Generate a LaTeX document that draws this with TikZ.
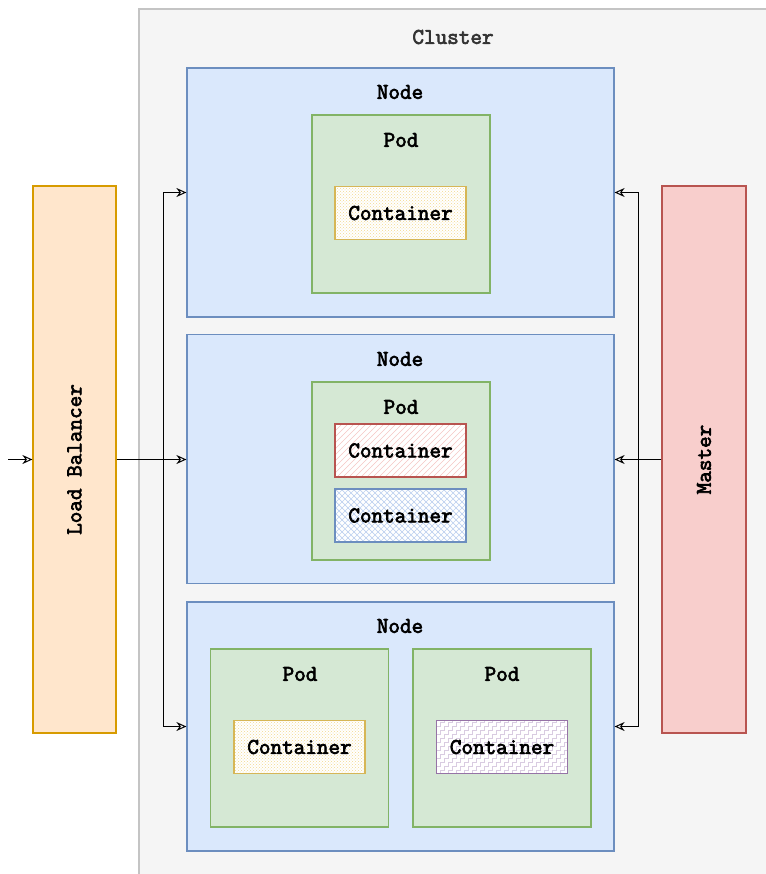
\documentclass[tikz,border=0pt]{standalone}
\usepackage{fontspec}
\newfontfamily\boxfont{Latin Modern Mono}[FakeBold=3]
\usetikzlibrary{arrows.meta,patterns}

% colour palette
\definecolor{clfill}{HTML}{F5F5F5}
\definecolor{clline}{HTML}{C4C4C4}
\definecolor{cltext}{HTML}{333333}
\definecolor{ndfill}{HTML}{DAE8FC}
\definecolor{ndline}{HTML}{6C8EBF}
\definecolor{pdfill}{HTML}{D5E8D4}
\definecolor{pdline}{HTML}{82B366}
\definecolor{lbfill}{HTML}{FFE6CC}
\definecolor{lbline}{HTML}{D79B00}
\definecolor{msfill}{HTML}{F8CECC}
\definecolor{msline}{HTML}{B85450}
\definecolor{yline}{HTML}{D6B656}
\definecolor{ydots}{HTML}{F2D98E}
\definecolor{rhatch}{HTML}{F5C6C4}
\definecolor{bhatch}{HTML}{BED1F0}
\definecolor{pline}{HTML}{9673A6}
\definecolor{pstep}{HTML}{D9CCE1}

% wide diagonal hatch (red container)
\pgfdeclarepatternformonly{widehatch}{\pgfqpoint{-1pt}{-1pt}}{\pgfqpoint{7pt}{7pt}}{\pgfqpoint{6pt}{6pt}}{%
  \pgfsetlinewidth{0.7pt}%
  \pgfpathmoveto{\pgfqpoint{0pt}{0pt}}%
  \pgfpathlineto{\pgfqpoint{6.1pt}{6.1pt}}%
  \pgfusepath{stroke}%
}
% wide diagonal cross-hatch (blue container)
\pgfdeclarepatternformonly{widecross}{\pgfqpoint{-1pt}{-1pt}}{\pgfqpoint{7pt}{7pt}}{\pgfqpoint{6pt}{6pt}}{%
  \pgfsetlinewidth{0.7pt}%
  \pgfpathmoveto{\pgfqpoint{0pt}{0pt}}%
  \pgfpathlineto{\pgfqpoint{6.1pt}{6.1pt}}%
  \pgfpathmoveto{\pgfqpoint{0pt}{6pt}}%
  \pgfpathlineto{\pgfqpoint{6.1pt}{-0.1pt}}%
  \pgfusepath{stroke}%
}
% stair-step fill (purple container)
\pgfdeclarepatternformonly{stairs}{\pgfqpoint{-1pt}{-1pt}}{\pgfqpoint{9pt}{9pt}}{\pgfqpoint{8pt}{8pt}}{%
  \pgfsetlinewidth{0.7pt}%
  \pgfpathmoveto{\pgfqpoint{0pt}{0pt}}%
  \pgfpathlineto{\pgfqpoint{4pt}{0pt}}%
  \pgfpathlineto{\pgfqpoint{4pt}{4pt}}%
  \pgfpathlineto{\pgfqpoint{8pt}{4pt}}%
  \pgfpathlineto{\pgfqpoint{8pt}{8pt}}%
  \pgfusepath{stroke}%
}

\tikzset{
  txt/.style={font=\fontsize{22.5}{26}\selectfont\boxfont, inner sep=0pt},
  cluster/.style={draw=clline, fill=clfill, line width=1.3pt, inner sep=0pt},
  knode/.style={draw=ndline, fill=ndfill, line width=1.2pt, minimum width=427pt, minimum height=249pt, inner sep=0pt},
  pod/.style={draw=pdline, fill=pdfill, line width=1.2pt, minimum width=178pt, minimum height=178pt, inner sep=0pt},
  cbox/.style={line width=1.2pt, minimum width=131pt, minimum height=53pt, inner sep=0pt, txt},
  lbbox/.style={draw=lbline, fill=lbfill, line width=1.2pt, minimum width=83pt, minimum height=547pt, inner sep=0pt},
  msbox/.style={draw=msline, fill=msfill, line width=1.2pt, minimum width=84pt, minimum height=547pt, inner sep=0pt},
  edge/.style={draw=black, line width=1pt, -{Stealth[open, length=10pt, width=9pt]}},
}

\begin{document}
\begin{tikzpicture}[x=1pt, y=-1pt]
\useasboundingbox (0,0) rectangle (765,874);

% cluster frame (runs off the right and lower edges)
\node[cluster, minimum width=629pt, minimum height=866pt] (cl) at (453.5,442) {};
\node[txt, text=cltext] (clt) at (453,37) {Cluster};

% worker nodes
\node[knode] (n1) at (400.5,192.5) {};
\node[knode] (n2) at (400.5,459) {};
\node[knode] (n3) at (400.5,726.5) {};
\node[txt] (n1t) at (400,92) {Node};
\node[txt] (n2t) at (400,359) {Node};
\node[txt] (n3t) at (400,626) {Node};

% pods
\node[pod] (p1) at (401,204) {};
\node[pod] (p2) at (401,471) {};
\node[pod] (p3a) at (299.5,738) {};
\node[pod] (p3b) at (502,738) {};
\node[txt] (p1t) at (401,140) {Pod};
\node[txt] (p2t) at (401,407) {Pod};
\node[txt] (p3at) at (300,674) {Pod};
\node[txt] (p3bt) at (502,674) {Pod};

% containers
\node[cbox, fill=white] (c1bg) at (400.5,213) {};
\node[cbox, draw=yline, pattern=crosshatch dots, pattern color=ydots] (c1) at (400.5,213) {Container};

\node[cbox, fill=white] (c2bg) at (400.5,450.5) {};
\node[cbox, draw=msline, pattern=widehatch, pattern color=rhatch] (c2) at (400.5,450.5) {Container};

\node[cbox, fill=white] (c3bg) at (400.5,515.5) {};
\node[cbox, draw=ndline, pattern=widecross, pattern color=bhatch] (c3) at (400.5,515.5) {Container};

\node[cbox, fill=white] (c4bg) at (299.5,747) {};
\node[cbox, draw=yline, pattern=crosshatch dots, pattern color=ydots] (c4) at (299.5,747) {Container};

\node[cbox, fill=white] (c5bg) at (502,747) {};
\node[cbox, draw=pline, pattern=stairs, pattern color=pstep] (c5) at (502,747) {Container};

% load balancer and master
\node[lbbox] (lb) at (74.5,459.5) {};
\node[txt, rotate=90] (lbt) at (74.5,459.5) {Load Balancer};
\node[msbox] (ms) at (704,459.5) {};
\node[txt, rotate=90] (mst) at (704,459.5) {Master};

% traffic into the load balancer
\coordinate (in) at (8,459.5);
\draw[edge] (in) -- (lb.west);

% load balancer to every node
\coordinate (lbj) at (163,459.5);
\draw[edge] (lb.east) -- (lb.east -| n2.west);
\draw[edge] (lb.east) -- (lbj) |- (n1.west);
\draw[edge] (lbj) |- (n3.west);

% master to every node
\coordinate (msj) at (638,459.5);
\draw[edge] (ms.west) -- (ms.west -| n2.east);
\draw[edge] (ms.west) -- (msj) |- (n1.east);
\draw[edge] (msj) |- (n3.east);
\end{tikzpicture}
\end{document}
